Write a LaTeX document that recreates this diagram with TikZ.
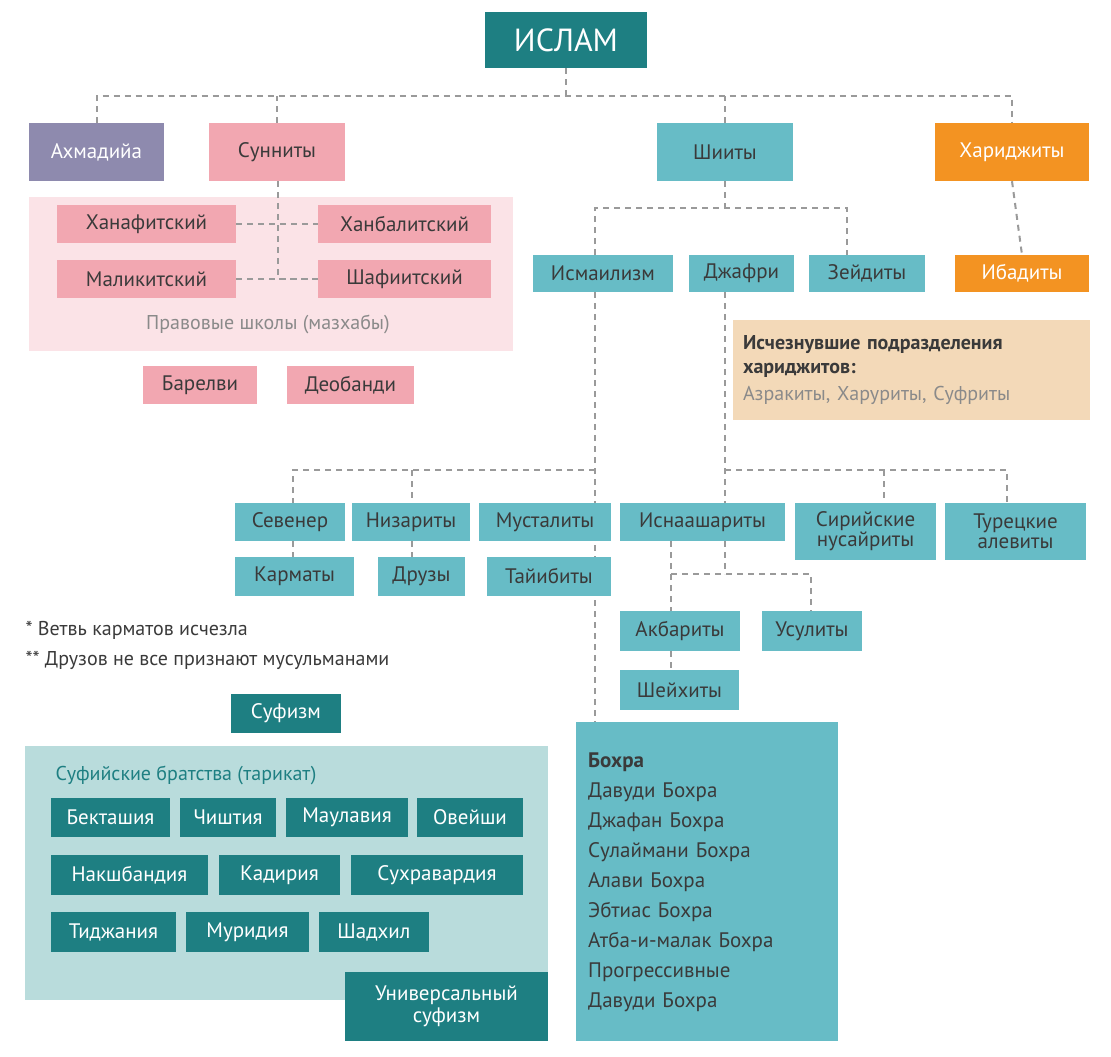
\documentclass[tikz,border=0pt]{standalone}
\usepackage{fontspec}
\setmainfont{PT Sans}
\pgfdeclarelayer{bg}\pgfdeclarelayer{lines}\pgfsetlayers{bg,lines,main}
\definecolor{dteal}{HTML}{1E7F82}
\definecolor{teal}{HTML}{67BCC6}
\definecolor{pink}{HTML}{F2A7B1}
\definecolor{lpink}{HTML}{FBE3E7}
\definecolor{purp}{HTML}{8E8AAE}
\definecolor{orng}{HTML}{F39322}
\definecolor{beige}{HTML}{F3D9B8}
\definecolor{lteal}{HTML}{B9DCDC}
\definecolor{txt}{HTML}{3A3A3A}
\definecolor{gtxt}{HTML}{8A8A8A}
\definecolor{dl}{HTML}{9A9A9A}
\newcommand\bx[7]{\node[#6, inner sep=0, minimum width={(#4-#2)*1pt}, minimum height={(#5-#3)*1pt}] (#1) at ({(#2+#4)/2},{(#3+#5)/2}) {#7};}
\begin{document}
\begin{tikzpicture}[x=1pt,y=-1pt,
 w/.style={fill=#1,text=white,font=\fontsize{21}{24}\selectfont},
 k/.style={fill=#1,text=txt,font=\fontsize{21}{24}\selectfont},
 tl/.style={fill=teal,text=txt,font=\fontsize{21}{24}\selectfont,align=center},
 dk/.style={fill=dteal,text=white,font=\fontsize{21}{24}\selectfont,align=center},
 con/.style={draw=dl,line width=2pt,dash pattern=on 6pt off 5pt}]
\useasboundingbox (0,0) rectangle (1111,1057);
\begin{pgfonlayer}{bg}
\fill[lpink] (29,197) rectangle (513,351);
\fill[lteal] (25,746) rectangle (548,1000);
\end{pgfonlayer}
\bx{islam}{485}{12}{647}{68}{w=dteal,font=\fontsize{32}{36}\selectfont}{ИСЛАМ}
\bx{ahm}{29}{123}{164}{181}{w=purp}{Ахмадийа}
\bx{sun}{209}{123}{345}{181}{k=pink}{Сунниты}
\bx{shi}{657}{123}{793}{181}{k=teal}{Шииты}
\bx{har}{935}{123}{1089}{181}{w=orng}{Хариджиты}
\bx{hanaf}{57}{205}{236}{243}{k=pink}{Ханафитский}
\bx{hanb}{318}{205}{491}{243}{k=pink}{Ханбалитский}
\bx{malik}{57}{260}{236}{298}{k=pink}{Маликитский}
\bx{shaf}{318}{260}{491}{298}{k=pink}{Шафиитский}
\node[text=gtxt,font=\fontsize{20}{24}\selectfont] (prav) at (268,324) {Правовые школы (мазхабы)};
\bx{barel}{143}{366}{257}{404}{k=pink}{Барелви}
\bx{deob}{287}{366}{414}{404}{k=pink}{Деобанди}
\bx{ism}{533}{255}{673}{292}{k=teal}{Исмаилизм}
\bx{jaf}{689}{255}{794}{292}{k=teal}{Джафри}
\bx{zei}{809}{255}{925}{292}{k=teal}{Зейдиты}
\bx{ibad}{955}{255}{1089}{292}{w=orng}{Ибадиты}
\node[fill=beige,inner sep=0,minimum width=357pt,minimum height=100pt,text width=337pt,align=left,font=\fontsize{20}{24}\selectfont] (ext) at (911.5,370)
 {\textcolor{txt}{\bfseries Исчезнувшие подразделения\\хариджитов:}\\[3pt]\textcolor{gtxt}{Азракиты, Харуриты, Суфриты}};
\bx{sev}{235}{503}{345}{541}{k=teal}{Севенер}
\bx{niz}{352}{503}{470}{541}{k=teal}{Низариты}
\bx{must}{479}{503}{611}{541}{k=teal}{Мусталиты}
\bx{isna}{620}{503}{785}{541}{k=teal}{Иснаашариты}
\bx{syr}{795}{503}{936}{560}{tl}{Сирийские\\[-4pt]нусайриты}
\bx{tur}{945}{503}{1086}{560}{tl}{Турецкие\\[-4pt]алевиты}
\bx{karm}{235}{557}{354}{596}{k=teal}{Карматы}
\bx{druz}{378}{557}{465}{596}{k=teal}{Друзы}
\bx{taib}{487}{557}{611}{596}{k=teal}{Тайибиты}
\bx{akb}{620}{611}{740}{651}{k=teal}{Акбариты}
\bx{usul}{762}{611}{862}{651}{k=teal}{Усулиты}
\bx{sheikh}{620}{670}{739}{710}{k=teal}{Шейхиты}
\node[anchor=west,text=txt,font=\fontsize{20}{24}\selectfont] (n1) at (22,630) {* Ветвь карматов исчезла};
\node[anchor=west,text=txt,font=\fontsize{20}{24}\selectfont] (n2) at (22,660) {** Друзов не все признают мусульманами};
\bx{suf}{231}{694}{341}{733}{dk}{Суфизм}
\node[anchor=west,text=dteal,font=\fontsize{20}{24}\selectfont] (sbt) at (52,775) {Суфийские братства (тарикат)};
\bx{bek}{51}{798}{170}{837}{dk}{Бекташия}
\bx{chi}{180}{798}{276}{837}{dk}{Чиштия}
\bx{mau}{286}{798}{408}{837}{dk}{Маулавия}
\bx{ove}{417}{798}{523}{837}{dk}{Овейши}
\bx{nak}{51}{855}{208}{895}{dk}{Накшбандия}
\bx{kad}{219}{855}{340}{895}{dk}{Кадирия}
\bx{suh}{351}{855}{523}{895}{dk}{Сухравардия}
\bx{tij}{51}{912}{176}{952}{dk}{Тиджания}
\bx{mur}{186}{912}{309}{952}{dk}{Муридия}
\bx{shad}{319}{912}{429}{952}{dk}{Шадхил}
\bx{univ}{345}{972}{548}{1041}{dk,font=\fontsize{21}{22}\selectfont}{Универсальный\\суфизм}
\node[fill=teal,inner sep=0,minimum width=262pt,minimum height=319pt,text width=238pt,align=left,anchor=north west,text=txt,font=\fontsize{21}{30}\selectfont] (bohra) at (576,722)
 {\vspace{0pt}\raisebox{0pt}{}\\[-14pt]\textbf{Бохра}\\Давуди Бохра\\Джафан Бохра\\Сулаймани Бохра\\Алави Бохра\\Эбтиас Бохра\\Атба-и-малак Бохра\\Прогрессивные\\Давуди Бохра\\[8pt]};
\begin{pgfonlayer}{lines}
\draw[con] (islam.south) -- (islam.south |- 0,96);
\draw[con] (ahm.north) |- (har.north |- 0,96) -- (har.north);
\draw[con] (sun.north) -- (sun.north |- 0,96);
\draw[con] (shi.north) -- (shi.north |- 0,96);
\draw[con] (har.south) -- (ibad.north);
\draw[con] (278,181) |- (shaf.west);
\draw[con] (hanaf.east) -- (hanb.west);
\draw[con] (malik.east) -- (shaf.west);
\draw[con] (shi.south) -- (725,208);
\draw[con] (595,255) |- (847,208) -- (847,255);
\draw[con] (595,292) -- (595,722);
\draw[con] (595,470) -| (293,503);
\draw[con] (412,470) -- (412,503);
\draw[con] (293,541) -- (293,557);
\draw[con] (412,541) -- (412,557);
\draw[con] (725,292) -- (725,503);
\draw[con] (725,470) -| (1007,503);
\draw[con] (884,470) -- (884,503);
\draw[con] (725,541) -- (725,574);
\draw[con] (671,541) -- (671,670);
\draw[con] (671,574) -| (811,611);
\end{pgfonlayer}
\end{tikzpicture}
\end{document}
